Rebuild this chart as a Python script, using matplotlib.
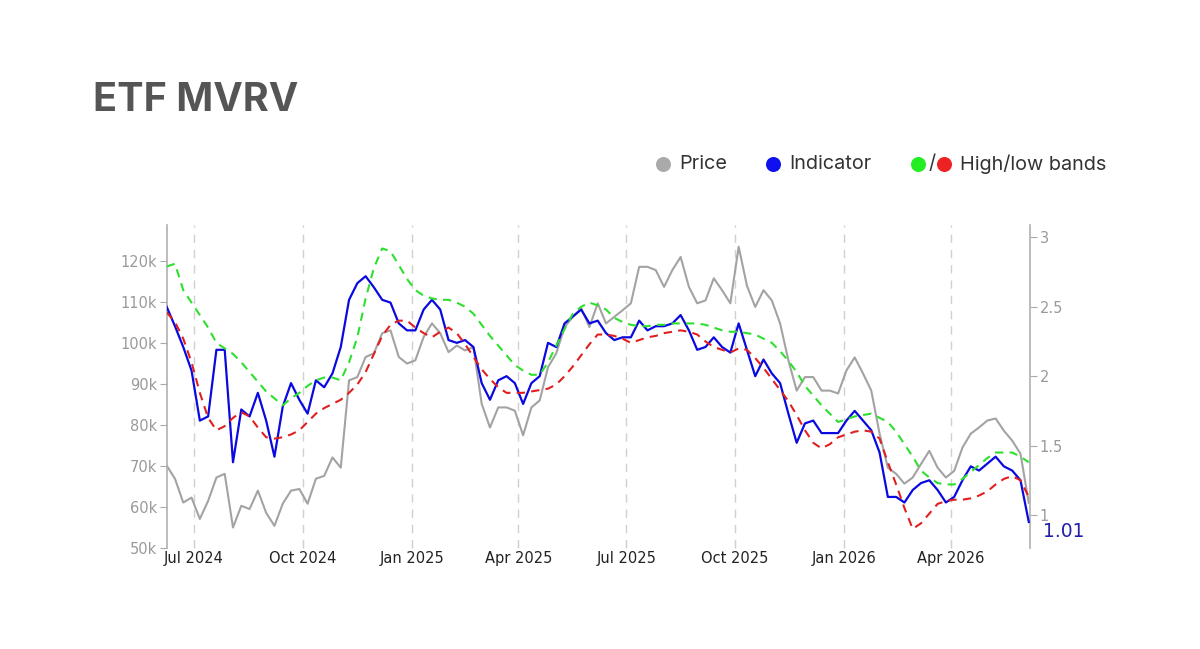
import matplotlib
matplotlib.use("Agg")
import matplotlib.pyplot as plt
import matplotlib.dates as mdates
from matplotlib.lines import Line2D
from matplotlib.ticker import FuncFormatter, FixedLocator
import pandas as pd

# ---------------- data (weekly samples) ----------------
start_date = "2024-06-08"
n_weeks = 105

price_k = [70.1, 66.9, 61.1, 62.3, 57.1, 61.5, 67.2, 68.1, 55.0, 60.3,
           59.5, 64.0, 58.6, 55.4, 60.8, 64.0, 64.4, 60.8, 66.9, 67.6,
           72.1, 69.6, 90.9, 91.7, 96.6, 97.5, 102.4, 103.1, 96.6, 95.0,
           95.8, 101.5, 104.8, 102.4, 97.8, 99.4, 98.2, 99.0, 85.2, 79.4,
           84.3, 84.3, 83.5, 77.5, 84.3, 86.0, 94.1, 97.5, 103.9, 106.4,
           108.5, 103.9, 109.7, 104.8, 106.4, 108.0, 109.7, 118.6, 118.6, 117.8,
           113.7, 117.8, 121.0, 113.7, 109.7, 110.4, 115.8, 112.9, 109.7, 123.5,
           114.0, 108.8, 112.9, 110.4, 104.8, 95.8, 88.4, 91.7, 91.7, 88.4,
           88.4, 87.7, 93.3, 96.5, 92.6, 88.4, 77.9, 69.6, 68.1, 65.7,
           67.2, 70.5, 73.7, 69.6, 67.2, 68.8, 74.5, 77.9, 79.4, 81.1,
           81.6, 78.6, 76.2, 73.0, 61.0]

indicator = [2.50, 2.36, 2.21, 2.04, 1.68, 1.71, 2.19, 2.19, 1.38, 1.76,
             1.71, 1.88, 1.68, 1.42, 1.78, 1.95, 1.83, 1.73, 1.97, 1.92,
             2.02, 2.21, 2.55, 2.67, 2.72, 2.64, 2.55, 2.53, 2.38, 2.33,
             2.33, 2.48, 2.55, 2.48, 2.26, 2.24, 2.26, 2.21, 1.95, 1.83,
             1.97, 2.00, 1.95, 1.80, 1.95, 2.00, 2.24, 2.21, 2.38, 2.43,
             2.48, 2.38, 2.40, 2.31, 2.26, 2.28, 2.28, 2.40, 2.33, 2.36,
             2.36, 2.38, 2.44, 2.33, 2.19, 2.21, 2.28, 2.21, 2.17, 2.38,
             2.19, 2.00, 2.12, 2.02, 1.95, 1.73, 1.52, 1.66, 1.68, 1.59,
             1.59, 1.59, 1.68, 1.75, 1.68, 1.61, 1.45, 1.13, 1.13, 1.09,
             1.18, 1.23, 1.25, 1.18, 1.09, 1.13, 1.25, 1.35, 1.32, 1.37,
             1.42, 1.35, 1.32, 1.25, 0.95]

high_band = [2.79, 2.81, 2.62, 2.53, 2.44, 2.35, 2.24, 2.20, 2.16, 2.10,
             2.03, 1.96, 1.89, 1.84, 1.79, 1.84, 1.88, 1.93, 1.97, 1.99,
             1.99, 1.97, 2.10, 2.28, 2.56, 2.78, 2.92, 2.90, 2.80, 2.70,
             2.62, 2.58, 2.56, 2.55, 2.55, 2.53, 2.50, 2.45, 2.37, 2.29,
             2.22, 2.15, 2.08, 2.04, 2.01, 2.01, 2.10, 2.22, 2.34, 2.45,
             2.50, 2.53, 2.51, 2.48, 2.42, 2.39, 2.37, 2.36, 2.36, 2.37,
             2.37, 2.38, 2.38, 2.38, 2.38, 2.37, 2.35, 2.33, 2.32, 2.32,
             2.31, 2.30, 2.27, 2.24, 2.18, 2.11, 2.03, 1.93, 1.86, 1.79,
             1.73, 1.67, 1.69, 1.71, 1.72, 1.73, 1.70, 1.67, 1.60, 1.51,
             1.42, 1.32, 1.27, 1.23, 1.22, 1.22, 1.26, 1.31, 1.36, 1.41,
             1.45, 1.45, 1.45, 1.42, 1.38]

low_band = [2.46, 2.39, 2.27, 2.10, 1.88, 1.70, 1.61, 1.64, 1.70, 1.74,
            1.71, 1.63, 1.56, 1.55, 1.56, 1.58, 1.61, 1.67, 1.73, 1.77,
            1.80, 1.83, 1.88, 1.94, 2.03, 2.16, 2.29, 2.37, 2.40, 2.40,
            2.35, 2.31, 2.28, 2.32, 2.35, 2.31, 2.23, 2.14, 2.05, 1.98,
            1.92, 1.88, 1.88, 1.88, 1.89, 1.90, 1.91, 1.94, 2.00, 2.07,
            2.15, 2.23, 2.30, 2.30, 2.29, 2.27, 2.24, 2.26, 2.28, 2.29,
            2.31, 2.32, 2.33, 2.32, 2.30, 2.25, 2.21, 2.19, 2.17, 2.20,
            2.19, 2.13, 2.06, 1.98, 1.90, 1.82, 1.72, 1.61, 1.52, 1.48,
            1.51, 1.56, 1.58, 1.60, 1.61, 1.60, 1.55, 1.38, 1.22, 1.05,
            0.90, 0.94, 1.01, 1.08, 1.10, 1.11, 1.11, 1.12, 1.14, 1.17,
            1.22, 1.26, 1.28, 1.25, 1.13]

last_label = "1.01"
price_ticks = [50, 60, 70, 80, 90, 100, 110, 120]
ind_ticks = [1, 1.5, 2, 2.5, 3]

dates = pd.date_range(start_date, periods=n_weeks, freq="7D")

# ---------------- figure ----------------
fig = plt.figure(figsize=(12, 6.49), dpi=100)
fig.patch.set_facecolor("white")
ax = fig.add_axes([0.1389, 0.1556, 0.7194, 0.4977])
ax2 = ax.twinx()

GRAY = "#a3a3a3"
BLUE = "#0a0ae0"
GREEN = "#2ee02e"
RED = "#e02020"

ax.plot(dates, price_k, color=GRAY, lw=1.5, zorder=2)
ax2.plot(dates, indicator, color=BLUE, lw=1.6, zorder=3)
ax2.plot(dates, high_band, color=GREEN, lw=1.5, ls=(0, (4, 3)), zorder=4)
ax2.plot(dates, low_band, color=RED, lw=1.5, ls=(0, (4, 3)), zorder=4)

ax.set_xlim(pd.Timestamp("2024-06-08"), pd.Timestamp("2026-06-07"))
ax.set_ylim(50, 128.8)
ax2.set_ylim(0.762, 3.089)

# x axis
ax.xaxis.set_major_locator(mdates.MonthLocator(bymonth=[1, 4, 7, 10]))
ax.xaxis.set_major_formatter(mdates.DateFormatter("%b %Y"))
ax.grid(axis="x", color="#d0d0d0", lw=1.0, ls=(0, (6, 5)))
ax.tick_params(axis="x", direction="in", length=6, color="#d0d0d0",
               labelsize=10.5, labelcolor="#222222", pad=2)

# left axis
ax.yaxis.set_major_locator(FixedLocator(price_ticks))
ax.yaxis.set_major_formatter(FuncFormatter(lambda v, p: f"{v:.0f}k"))
ax.tick_params(axis="y", direction="out", length=5, color="#aaaaaa",
               labelsize=10.5, labelcolor="#9a9a9a", pad=2)

# right axis
ax2.yaxis.set_major_locator(FixedLocator(ind_ticks))
ax2.yaxis.set_major_formatter(FuncFormatter(lambda v, p: f"{v:g}"))
ax2.tick_params(axis="y", direction="out", length=5, color="#aaaaaa",
                labelsize=10.5, labelcolor="#9a9a9a", pad=2)

for a in (ax, ax2):
    for s in ("top", "bottom"):
        a.spines[s].set_visible(False)
    a.spines["left"].set_color("#b0b0b0")
    a.spines["right"].set_color("#b0b0b0")
    a.spines["left"].set_linewidth(1.2)
    a.spines["right"].set_linewidth(1.2)
ax.spines["right"].set_visible(False)
ax2.spines["left"].set_visible(False)

# last value label
ax2.annotate(last_label, xy=(1.0, indicator[-1]),
             xycoords=("axes fraction", "data"),
             xytext=(9.5, -7), textcoords="offset points",
             ha="left", va="center", fontsize=13.5, color="#2020a8",
             family="DejaVu Sans")

# title
fig.text(0.0772, 0.8294, "ETF MVRV", fontsize=28.5, fontweight="bold",
         color="#555555", family="Inter", ha="left", va="baseline")

# legend
ly = 1 - 164.3 / 649
def dot(xpix, color):
    fig.add_artist(Line2D([xpix / 1200], [ly], marker="o", markersize=10.8,
                          color=color, markeredgewidth=0,
                          transform=fig.transFigure))

dot(662.7, "#aaaaaa")
fig.text(679 / 1200, ly, "Price", fontsize=14.3, color="#333333",
         family="Inter", ha="left", va="center")
dot(773.3, "#1010ee")
fig.text(789 / 1200, ly, "Indicator", fontsize=14.3, color="#333333",
         family="Inter", ha="left", va="center")
dot(918.3, "#22ee22")
fig.text(931.7 / 1200, ly, "/", fontsize=14.3, color="#333333",
         family="Inter", ha="center", va="center")
dot(944, "#ee2222")
fig.text(960 / 1200, ly, "High/low bands", fontsize=14.3, color="#333333",
         family="Inter", ha="left", va="center")

fig.savefig("out.png", dpi=100, facecolor="white")
